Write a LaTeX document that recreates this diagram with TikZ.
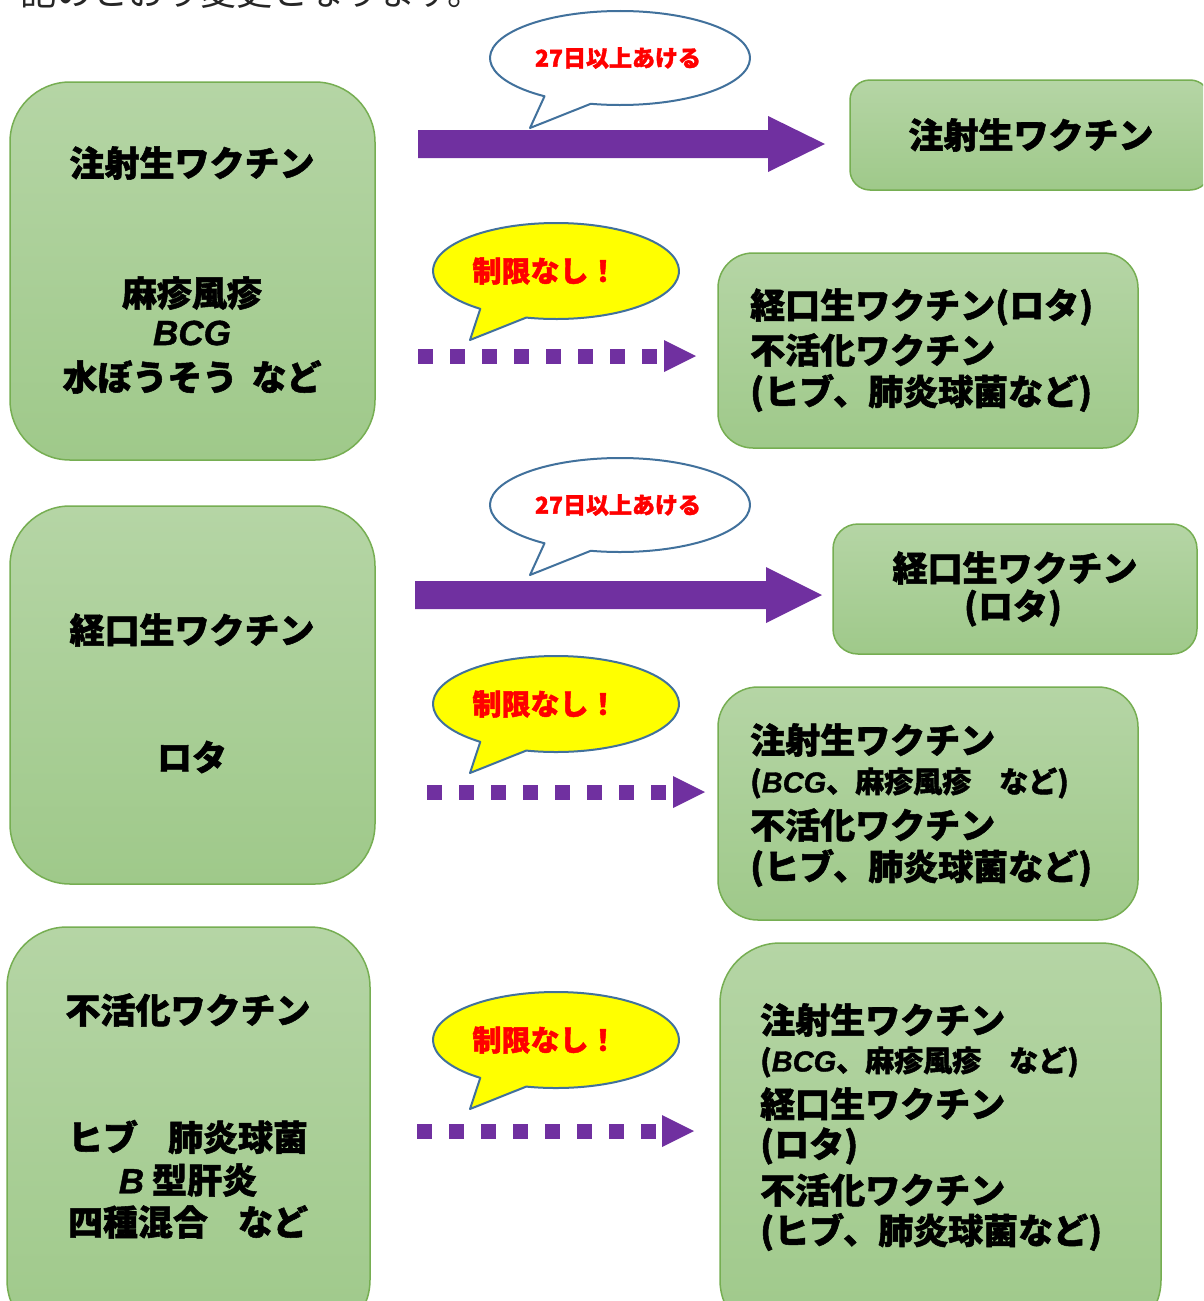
\documentclass[tikz,border=0pt]{standalone}
\usepackage{fontspec}
\setmainfont{Noto Sans CJK JP}
\newfontfamily\jp{Noto Sans CJK JP}[BoldFeatures={FakeBold=1.5}]
\newfontfamily\lat{Liberation Sans}[BoldItalicFeatures={FakeBold=1.2}]
\definecolor{boxtop}{HTML}{B5D5A5}
\definecolor{boxbot}{HTML}{9FC98A}
\definecolor{boxline}{HTML}{76AE52}
\definecolor{arrowc}{HTML}{7030A0}
\definecolor{callline}{HTML}{41719C}
\definecolor{callyel}{HTML}{FFFF00}
\definecolor{calltxt}{HTML}{FF0000}
\tikzset{
  box/.style={draw=boxline, line width=1.5pt, top color=boxtop, bottom color=boxbot, inner sep=0pt},
  big/.style={inner sep=0pt, text=black, font=\jp\bfseries\fontsize{35}{42}\selectfont},
  small/.style={inner sep=0pt, text=black, font=\jp\bfseries\fontsize{29}{35}\selectfont},
  ctext/.style={inner sep=0pt, text=calltxt, font=\jp\bfseries\fontsize{23}{26}\selectfont},
  ctextb/.style={inner sep=0pt, text=calltxt, font=\jp\bfseries\fontsize{29}{32}\selectfont},
  callw/.style={draw=callline, line width=2pt, fill=white, line join=round},
  cally/.style={draw=callline, line width=2pt, fill=callyel, line join=round},
  dotline/.style={draw=arrowc, line width=15pt, dash pattern=on 15pt off 17pt},
  headfill/.style={fill=arrowc}
}
\newcommand{\latb}[1]{{\lat\bfseries\itshape #1}}
\begin{document}
\begin{tikzpicture}[x=1pt,y=-1pt]
\useasboundingbox (0,0) rectangle (1203,1301);
\clip (0,0) rectangle (1203,1301);
\fill[white] (0,0) rectangle (1203,1301);

% partially visible heading (cut off at the top, as in the source)
\node[anchor=base west, inner sep=0pt, text=black!85, font=\jp\fontsize{36}{40}\selectfont] (head) at (20,5) {記のとおり変更となります。};

% left boxes
\node[box, minimum width=365pt, minimum height=378pt, rounded corners=60pt] (L1) at (192.5,271) {};
\node[box, minimum width=365pt, minimum height=378pt, rounded corners=60pt] (L2) at (192.5,695) {};
\node[box, minimum width=363pt, minimum height=413pt, rounded corners=60pt] (L3) at (188.5,1133.5) {};

% right boxes
\node[box, minimum width=360pt, minimum height=110pt, rounded corners=20pt] (R1) at (1030,135) {};
\node[box, minimum width=420pt, minimum height=195pt, rounded corners=35pt] (R2) at (928,350.5) {};
\node[box, minimum width=364pt, minimum height=130pt, rounded corners=25pt] (R3) at (1015,589) {};
\node[box, minimum width=420pt, minimum height=233pt, rounded corners=40pt] (R4) at (928,803.5) {};
\node[box, minimum width=441pt, minimum height=397pt, rounded corners=60pt] (R5) at (940.5,1141.5) {};

% left texts
\node[big] (L1a) at (192,163) {注射生ワクチン};
\node[big] (L1b) at (192,293) {麻疹風疹};
\node[big] (L1c) at (192,333) {\latb{BCG}};
\node[big] (L1d) at (192,377) {水ぼうそう\hspace{14pt}など};
\node[big] (L2a) at (192,630) {経口生ワクチン};
\node[big] (L2b) at (192,757) {ロタ};
\node[big] (L3a) at (188,1010) {不活化ワクチン};
\node[big] (L3b) at (188,1137) {ヒブ\hspace{30pt}肺炎球菌};
\node[big] (L3c) at (188,1180) {\latb{B} 型肝炎};
\node[big] (L3d) at (188,1222) {四種混合\hspace{30pt}など};

% right texts
\node[big] (R1a) at (1031,135) {注射生ワクチン};
\node[big, anchor=west] (R2a) at (750,307) {経口生ワクチン(ロタ)};
\node[big, anchor=west] (R2b) at (750,350) {不活化ワクチン};
\node[big, anchor=west] (R2c) at (750,393) {(ヒブ、肺炎球菌など)};
\node[big] (R3a) at (1015,568) {経口生ワクチン};
\node[big] (R3b) at (1013,608) {(ロタ)};
\node[big, anchor=west] (R4a) at (750,740) {注射生ワクチン};
\node[small, anchor=west] (R4b) at (750,783) {(\latb{BCG}、麻疹風疹\hspace{28pt}など)};
\node[big, anchor=west] (R4c) at (750,825) {不活化ワクチン};
\node[big, anchor=west] (R4d) at (750,868) {(ヒブ、肺炎球菌など)};
\node[big, anchor=west] (R5a) at (760,1020) {注射生ワクチン};
\node[small, anchor=west] (R5b) at (760,1062) {(\latb{BCG}、麻疹風疹\hspace{28pt}など)};
\node[big, anchor=west] (R5c) at (760,1104) {経口生ワクチン};
\node[big, anchor=west] (R5d) at (760,1146) {(ロタ)};
\node[big, anchor=west] (R5e) at (760,1190) {不活化ワクチン};
\node[big, anchor=west] (R5f) at (760,1232) {(ヒブ、肺炎球菌など)};

% solid arrows
\fill[arrowc] (418,130) -- (768,130) -- (768,116) -- (825,144) -- (768,172) -- (768,158) -- (418,158) -- cycle;
\fill[arrowc] (415,581) -- (766,581) -- (766,567) -- (822,595) -- (766,623) -- (766,609) -- (415,609) -- cycle;

% dotted arrows
\draw[dotline] (418,356) -- (658,356);
\fill[headfill] (664,340) -- (696,356) -- (664,372) -- cycle;
\draw[dotline] (427,792) -- (667,792);
\fill[headfill] (673,776) -- (705,792) -- (673,808) -- cycle;
\draw[dotline] (417,1131) -- (657,1131);
\fill[headfill] (662,1115) -- (694,1131) -- (662,1147) -- cycle;

% callouts
\path[callw] (620,58) ++(125.5:130 and 47) arc[start angle=125.5, end angle=463, x radius=130, y radius=47] -- (530,128) -- cycle;
\node[ctext] (C1t) at (618,58) {27日以上あける};
\path[cally] (556,271) ++(128:123 and 48) arc[start angle=128, end angle=464, x radius=123, y radius=48] -- (470,340) -- cycle;
\node[ctextb] (C2t) at (545,271) {制限なし！};
\path[callw] (620,505) ++(125.5:130 and 47) arc[start angle=125.5, end angle=463, x radius=130, y radius=47] -- (530,575) -- cycle;
\node[ctext] (C3t) at (618,505) {27日以上あける};
\path[cally] (556,704) ++(128:123 and 48) arc[start angle=128, end angle=464, x radius=123, y radius=48] -- (470,773) -- cycle;
\node[ctextb] (C4t) at (545,704) {制限なし！};
\path[cally] (556,1040) ++(128:123 and 48) arc[start angle=128, end angle=464, x radius=123, y radius=48] -- (470,1109) -- cycle;
\node[ctextb] (C5t) at (545,1040) {制限なし！};
\end{tikzpicture}
\end{document}
